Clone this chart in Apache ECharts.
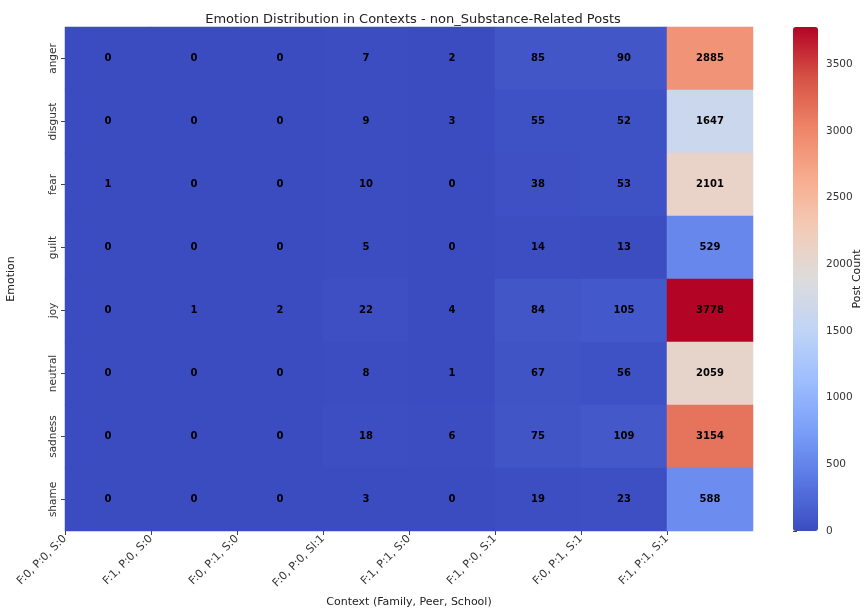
<!DOCTYPE html>
<html>
<head>
<meta charset="utf-8">
<script src="https://cdn.jsdelivr.net/npm/echarts@6/dist/echarts.min.js"></script>
<style>
  html, body { margin: 0; padding: 0; background: #fff; }
  #chart { width: 865px; height: 610px; }
</style>
</head>
<body>
<div id="chart"></div>
<script>
// 行 / 列
const emotions = ['anger', 'disgust', 'fear', 'guilt', 'joy', 'neutral', 'sadness', 'shame'];
const contexts = ['F:0, P:0, S:0', 'F:1, P:0, S:0', 'F:0, P:1, S:0', 'F:0, P:0, Sl:1',
  'F:1, P:1, S:0', 'F:1, P:0, S:1', 'F:0, P:1, S:1', 'F:1, P:1, S:1'];

// 每种情绪在各语境下的帖子数
const anger   = [0, 0, 0, 7, 2, 85, 90, 2885];
const disgust = [0, 0, 0, 9, 3, 55, 52, 1647];
const fear    = [1, 0, 0, 10, 0, 38, 53, 2101];
const guilt   = [0, 0, 0, 5, 0, 14, 13, 529];
const joy     = [0, 1, 2, 22, 4, 84, 105, 3778];
const neutral = [0, 0, 0, 8, 1, 67, 56, 2059];
const sadness = [0, 0, 0, 18, 6, 75, 109, 3154];
const shame   = [0, 0, 0, 3, 0, 19, 23, 588];

const colorbarTicks = [0, 500, 1000, 1500, 2000, 2500, 3000, 3500];
const maxCount = 3778;

// coolwarm
const coolwarm = ['#3b4cc0', '#5977e3', '#7b9ff9', '#9ebeff', '#c0d4f5', '#dddcdc',
  '#f2cbb7', '#f7ac8e', '#ee8468', '#d65244', '#b40426'];

const rows = [anger, disgust, fear, guilt, joy, neutral, sadness, shame];
const heatData = [];
rows.forEach((row, r) => {
  row.forEach((v, c) => heatData.push([c, r, v]));
});

const chart = echarts.init(document.getElementById('chart'));
const font = 'DejaVu Sans';

const option = {
  backgroundColor: '#fff',
  textStyle: { fontFamily: font },
  title: {
    text: 'Emotion Distribution in Contexts - non_Substance-Related Posts',
    left: 408, top: 8, textAlign: 'center',
    textStyle: { fontFamily: font, fontSize: 13, fontWeight: 'normal', color: '#222' }
  },
  grid: [
    // 底色用 coolwarm 最低色，盖住格子间的细缝
    { left: 65, top: 27, width: 688, height: 504, outerBoundsMode: 'none', containLabel: false,
      show: true, backgroundColor: '#3b4cc0', borderWidth: 0 },
    { left: 793, top: 27, width: 25, height: 504, outerBoundsMode: 'none', containLabel: false }
  ],
  xAxis: [
    {
      type: 'category', gridIndex: 0, data: contexts,
      axisLine: { show: false }, axisTick: { show: false }, axisLabel: { show: false },
      splitLine: { show: false }
    },
    {
      // 刻度放在格子左边缘（跟 seaborn 一样）
      type: 'value', gridIndex: 0, min: 0, max: contexts.length, interval: 1,
      position: 'bottom',
      axisLine: { show: false },
      splitLine: { show: false },
      axisTick: { show: true, length: 4, lineStyle: { color: '#444' },
        customValues: contexts.map((c, i) => i) },
      axisLabel: {
        rotate: 45, fontSize: 11, color: '#333', margin: 6,
        customValues: contexts.map((c, i) => i),
        formatter: v => contexts[v] || ''
      },
      name: 'Context (Family, Peer, School)',
      nameLocation: 'middle', nameGap: 66,
      nameTextStyle: { fontSize: 11, color: '#222' }
    },
    {
      type: 'value', gridIndex: 1, show: false, min: 0, max: 1,
      axisLine: { show: false }, axisTick: { show: false }, axisLabel: { show: false },
      splitLine: { show: false }
    }
  ],
  yAxis: [
    {
      type: 'category', gridIndex: 0, data: emotions, inverse: true,
      axisLine: { show: false },
      axisTick: { show: true, alignWithLabel: true, length: 4, lineStyle: { color: '#444' } },
      axisLabel: { rotate: 90, fontSize: 10.5, color: '#333', margin: 6 },
      splitLine: { show: false },
      name: 'Emotion', nameLocation: 'middle', nameGap: 48, nameRotate: 90,
      nameTextStyle: { fontSize: 11, color: '#222' }
    },
    {
      type: 'value', gridIndex: 1, min: 0, max: maxCount, position: 'right',
      axisLine: { show: false },
      splitLine: { show: false },
      axisTick: { show: true, inside: false, length: 4, lineStyle: { color: '#444' },
        customValues: colorbarTicks },
      axisLabel: { fontSize: 10.5, color: '#333', margin: 8, customValues: colorbarTicks,
        formatter: v => String(v) },
      name: 'Post Count', nameLocation: 'middle', nameGap: 34, nameRotate: 90,
      nameMoveOverlap: false,
      nameTextStyle: { fontSize: 11, color: '#222' }
    }
  ],
  visualMap: {
    type: 'continuous',
    min: 0, max: maxCount,
    seriesIndex: 0,
    calculable: false,
    hoverLink: false,
    orient: 'vertical',
    left: 793, top: 27,
    itemWidth: 25, itemHeight: 504,
    padding: 0,
    showLabel: false,
    text: null,
    indicatorSize: 0,
    inRange: { color: coolwarm }
  },
  series: [{
    type: 'heatmap',
    xAxisIndex: 0, yAxisIndex: 0,
    data: heatData,
    label: {
      show: true, fontSize: 10, fontWeight: 'bold', color: '#000',
      formatter: p => p.value[2]
    },
    itemStyle: { borderWidth: 0 },
    emphasis: { disabled: true }
  }]
};

chart.setOption(option);
</script>
</body>
</html>
